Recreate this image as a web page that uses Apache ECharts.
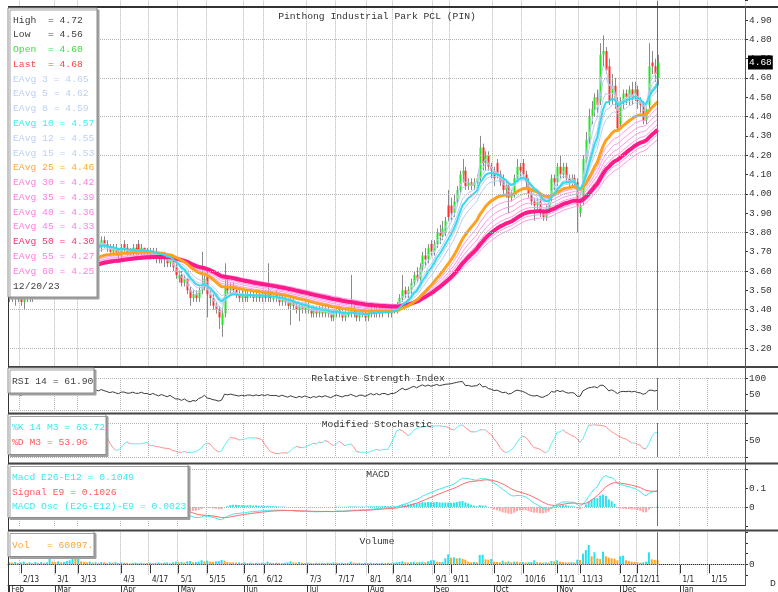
<!DOCTYPE html>
<html>
<head>
<meta charset="utf-8">
<title>Pinthong Industrial Park PCL (PIN)</title>
<script src="https://cdn.jsdelivr.net/npm/echarts/dist/echarts.min.js"></script>
<style>
html, body { margin: 0; padding: 0; background: #fff; }
#chart { width: 778px; height: 592px; }
</style>
</head>
<body>
<div id="chart"></div>
<script>
// daily bars, Feb 7 2023 .. Dec 20 2023: [open, close, low, high]
const ohlc = [
  [3.48,3.46,3.44,3.50],[3.46,3.48,3.44,3.50],[3.48,3.46,3.42,3.50],[3.46,3.46,3.44,3.48],[3.46,3.44,3.42,3.48],
  [3.44,3.46,3.40,3.48],[3.46,3.48,3.44,3.50],[3.48,3.46,3.44,3.50],[3.46,3.48,3.44,3.50],[3.48,3.50,3.46,3.52],
  [3.50,3.48,3.46,3.52],[3.48,3.50,3.46,3.52],[3.50,3.52,3.48,3.54],[3.52,3.50,3.48,3.54],[3.50,3.60,3.50,3.62],
  [3.60,3.58,3.54,3.62],[3.58,3.62,3.56,3.64],[3.62,3.60,3.58,3.64],[3.60,3.64,3.58,3.66],[3.64,3.62,3.60,3.66],
  [3.62,3.66,3.60,3.68],[3.66,3.70,3.64,3.72],[3.70,3.78,3.68,3.80],[3.78,3.74,3.72,3.82],[3.74,3.76,3.70,3.80],
  [3.76,3.72,3.70,3.78],[3.72,3.74,3.70,3.76],[3.74,3.76,3.72,3.78],[3.76,3.74,3.72,3.78],[3.74,3.76,3.72,3.78],
  [3.76,3.74,3.72,3.78],[3.74,3.72,3.70,3.76],[3.72,3.76,3.70,3.78],[3.76,3.74,3.72,3.78],[3.74,3.72,3.70,3.76],
  [3.72,3.70,3.68,3.74],[3.70,3.72,3.68,3.74],[3.72,3.70,3.68,3.74],[3.70,3.68,3.66,3.72],[3.68,3.72,3.66,3.74],
  [3.74,3.72,3.70,3.76],[3.72,3.70,3.68,3.74],[3.70,3.70,3.68,3.72],[3.70,3.72,3.68,3.74],[3.72,3.70,3.68,3.74],
  [3.74,3.70,3.68,3.76],[3.70,3.72,3.68,3.74],[3.72,3.70,3.68,3.72],[3.70,3.70,3.68,3.72],[3.70,3.68,3.66,3.72],
  [3.68,3.70,3.66,3.72],[3.70,3.68,3.64,3.72],[3.68,3.66,3.64,3.70],[3.66,3.68,3.64,3.70],[3.68,3.66,3.62,3.70],
  [3.66,3.64,3.62,3.68],[3.64,3.66,3.62,3.68],[3.66,3.62,3.60,3.68],[3.62,3.58,3.56,3.64],[3.56,3.58,3.54,3.60],
  [3.58,3.54,3.52,3.60],[3.54,3.56,3.52,3.58],[3.56,3.50,3.48,3.56],[3.50,3.46,3.42,3.52],[3.46,3.48,3.44,3.50],
  [3.48,3.46,3.44,3.50],[3.46,3.50,3.44,3.52],[3.50,3.52,3.48,3.70],[3.52,3.56,3.50,3.58],[3.58,3.48,3.36,3.60],
  [3.48,3.46,3.42,3.50],[3.46,3.42,3.40,3.48],[3.42,3.40,3.38,3.44],[3.40,3.36,3.30,3.42],[3.32,3.38,3.26,3.40],
  [3.38,3.52,3.36,3.64],[3.52,3.50,3.48,3.56],[3.50,3.52,3.48,3.54],[3.52,3.50,3.48,3.54],[3.50,3.48,3.46,3.52],
  [3.48,3.46,3.44,3.50],[3.46,3.48,3.44,3.50],[3.48,3.46,3.44,3.50],[3.46,3.48,3.44,3.50],[3.48,3.48,3.46,3.50],
  [3.48,3.46,3.44,3.50],[3.46,3.48,3.44,3.50],[3.48,3.46,3.44,3.50],[3.46,3.48,3.44,3.50],[3.48,3.46,3.44,3.50],
  [3.46,3.48,3.44,3.64],[3.48,3.46,3.44,3.50],[3.46,3.46,3.44,3.48],[3.48,3.46,3.44,3.50],[3.46,3.44,3.42,3.48],
  [3.44,3.46,3.42,3.48],[3.46,3.44,3.42,3.48],[3.44,3.42,3.40,3.46],[3.42,3.44,3.32,3.46],[3.44,3.42,3.40,3.46],
  [3.42,3.40,3.38,3.44],[3.40,3.42,3.34,3.44],[3.42,3.40,3.38,3.44],[3.40,3.42,3.38,3.44],[3.42,3.40,3.38,3.44],
  [3.40,3.38,3.36,3.42],[3.38,3.40,3.36,3.42],[3.40,3.38,3.36,3.42],[3.38,3.40,3.36,3.42],[3.40,3.38,3.36,3.42],
  [3.38,3.40,3.36,3.42],[3.40,3.38,3.36,3.42],[3.38,3.36,3.34,3.40],[3.36,3.38,3.34,3.40],[3.38,3.40,3.36,3.42],
  [3.40,3.38,3.36,3.42],[3.38,3.36,3.34,3.40],[3.36,3.38,3.34,3.40],[3.38,3.38,3.36,3.40],[3.38,3.40,3.36,3.58],
  [3.40,3.38,3.36,3.42],[3.38,3.36,3.34,3.40],[3.36,3.38,3.34,3.40],[3.38,3.38,3.36,3.40],[3.38,3.36,3.34,3.40],
  [3.36,3.38,3.34,3.40],[3.38,3.40,3.36,3.42],[3.40,3.38,3.36,3.42],[3.38,3.40,3.36,3.42],[3.40,3.38,3.36,3.42],
  [3.38,3.40,3.36,3.42],[3.40,3.40,3.38,3.42],[3.40,3.38,3.36,3.42],[3.38,3.40,3.36,3.42],[3.40,3.40,3.38,3.42],
  [3.40,3.42,3.38,3.44],[3.42,3.46,3.40,3.48],[3.46,3.50,3.44,3.58],[3.50,3.48,3.46,3.52],[3.48,3.50,3.46,3.52],
  [3.50,3.54,3.48,3.56],[3.54,3.58,3.52,3.60],[3.58,3.56,3.54,3.62],[3.56,3.62,3.54,3.64],[3.62,3.68,3.60,3.70],
  [3.68,3.66,3.62,3.72],[3.66,3.72,3.64,3.74],[3.74,3.70,3.68,3.76],[3.70,3.74,3.68,3.76],[3.74,3.80,3.72,3.82],
  [3.80,3.78,3.74,3.84],[3.78,3.82,3.76,3.86],[3.80,3.86,3.78,3.88],[3.94,3.88,3.86,4.02],[3.94,3.90,3.86,3.98],
  [3.90,3.96,3.88,4.00],[3.96,4.02,3.94,4.04],[4.02,4.10,4.00,4.12],[4.10,4.12,4.06,4.18],[4.12,4.04,4.02,4.14],
  [4.04,4.06,4.02,4.08],[4.06,4.04,4.02,4.08],[4.04,4.06,4.02,4.08],[4.06,4.08,4.04,4.10],[4.08,4.24,4.06,4.30],
  [4.24,4.16,4.12,4.26],[4.16,4.20,4.12,4.22],[4.20,4.14,4.12,4.22],[4.14,4.12,4.08,4.16],[4.12,4.08,4.04,4.14],
  [4.16,4.10,4.08,4.18],[4.10,4.06,4.04,4.12],[4.08,4.02,4.00,4.10],[4.02,4.04,3.98,4.06],[4.04,3.98,3.90,4.06],
  [3.98,4.00,3.96,4.02],[4.00,4.08,3.98,4.10],[4.08,4.14,4.06,4.18],[4.14,4.12,4.08,4.16],[4.16,4.10,4.08,4.18],
  [4.10,4.06,4.02,4.12],[4.06,4.00,3.98,4.08],[4.00,3.96,3.94,4.02],[3.96,3.94,3.86,3.98],[3.94,3.96,3.92,3.98],
  [3.96,3.90,3.88,3.98],[3.90,3.88,3.86,3.92],[3.88,3.92,3.86,3.94],[3.92,3.96,3.90,3.98],[3.98,4.08,3.96,4.10],
  [4.08,4.06,4.02,4.10],[4.06,4.14,4.04,4.16],[4.14,4.10,4.08,4.20],[4.10,4.14,4.08,4.16],[4.14,4.08,4.06,4.16],
  [4.08,4.06,4.04,4.10],[4.06,4.08,4.04,4.10],[4.08,4.06,4.04,4.10],[4.06,3.94,3.80,4.08],[3.90,3.94,3.88,3.96],
  [3.96,4.18,3.94,4.20],[4.18,4.28,4.16,4.32],[4.28,4.40,4.26,4.44],[4.40,4.44,4.36,4.48],[4.44,4.50,4.40,4.52],
  [4.50,4.46,4.42,4.54],[4.48,4.72,4.46,4.78],[4.72,4.74,4.66,4.82],[4.74,4.64,4.62,4.76],[4.66,4.48,4.46,4.70],
  [4.52,4.56,4.46,4.62],[4.56,4.48,4.44,4.60],[4.48,4.34,4.32,4.50],[4.36,4.48,4.34,4.50],[4.48,4.52,4.44,4.54],
  [4.52,4.50,4.46,4.54],[4.50,4.54,4.46,4.56],[4.54,4.50,4.46,4.58],[4.52,4.54,4.48,4.58],[4.54,4.48,4.44,4.56],
  [4.48,4.46,4.42,4.50],[4.46,4.38,4.36,4.48],[4.38,4.44,4.36,4.46],[4.46,4.66,4.44,4.78],[4.68,4.66,4.62,4.74],
  [4.66,4.62,4.58,4.70],[4.60,4.68,4.56,4.72]
]

const volumes = [
  30000, 25000, 35000, 20000, 28000, 40000, 22000, 30000, 18000, 35000,
  26000, 32000, 24000, 30000, 80000, 40000, 30000, 45000, 28000, 35000,
  50000, 60000, 105000, 95000, 100000, 45000, 35000, 30000, 40000, 25000,
  30000, 22000, 35000, 28000, 20000, 30000, 25000, 32000, 20000, 28000,
  24000, 20000, 15000, 22000, 26000, 18000, 24000, 15000, 20000, 25000,
  18000, 22000, 30000, 20000, 25000, 28000, 18000, 30000, 40000, 32000,
  35000, 28000, 45000, 50000, 30000, 35000, 40000, 60000, 45000, 55000,
  40000, 38000, 45000, 50000, 65000, 55000, 35000, 30000, 28000, 25000,
  30000, 22000, 28000, 20000, 25000, 18000, 22000, 20000, 26000, 18000,
  40000, 25000, 20000, 24000, 22000, 18000, 25000, 30000, 45000, 28000,
  25000, 35000, 24000, 20000, 26000, 22000, 18000, 24000, 20000, 22000,
  18000, 25000, 20000, 28000, 22000, 20000, 24000, 18000, 22000, 40000,
  26000, 20000, 24000, 18000, 22000, 20000, 25000, 18000, 22000, 20000,
  24000, 18000, 22000, 20000, 26000, 30000, 35000, 45000, 30000, 28000,
  32000, 38000, 30000, 35000, 40000, 30000, 45000, 60000, 62000, 40000,
  35000, 38000, 90000, 150000, 100000, 105000, 90000, 95000, 80000, 70000,
  40000, 30000, 35000, 30000, 140000, 145000, 75000, 70000, 80000, 40000,
  35000, 30000, 55000, 35000, 45000, 30000, 40000, 38000, 30000, 35000,
  28000, 32000, 35000, 60000, 30000, 28000, 25000, 30000, 28000, 50000,
  45000, 60000, 40000, 35000, 30000, 28000, 32000, 30000, 70000, 65000,
  160000, 215000, 290000, 120000, 180000, 90000, 80000, 190000, 120000, 100000,
  90000, 85000, 60000, 120000, 130000, 60000, 50000, 40000, 35000, 30000,
  25000, 30000, 40000, 180000, 75000, 65000, 60097
]

// level of the averages before the first shown bar
const priorLevel = 3.62

const emaPeriods = [3, 5, 8, 10, 12, 15, 25, 30, 35, 40, 45, 50, 55, 60]

const dayTicks = ['2/13', '3/1', '3/13', '4/3', '4/17', '5/1', '5/15', '6/1', '6/12', '7/3', '7/17', '8/1',
  '8/14', '9/1', '9/11', '10/2', '10/16', '11/1', '11/13', '12/1', '12/11', '1/1', '1/15']
const monthTicks = { '2/7': 'Feb', '3/1': 'Mar', '4/3': 'Apr', '5/1': 'May', '6/1': 'Jun', '7/3': 'Jul',
  '8/1': 'Aug', '9/1': 'Sep', '10/2': 'Oct', '11/1': 'Nov', '12/1': 'Dec', '1/1': 'Jan' }

const legendLines = [
  ['High  = 4.72', '#404040'], ['Low   = 4.56', '#404040'], ['Open  = 4.60', '#3ee03e'], ['Last  = 4.68', '#ff4444'],
  ['EAvg 3 = 4.65', '#bcd0f4'], ['EAvg 5 = 4.62', '#bcd0f4'], ['EAvg 8 = 4.59', '#bcd0f4'], ['EAvg 10 = 4.57', '#3ef0f0'],
  ['EAvg 12 = 4.55', '#bcd0f4'], ['EAvg 15 = 4.53', '#bcd0f4'], ['EAvg 25 = 4.46', '#ffaa33'], ['EAvg 30 = 4.42', '#ff7fe0'],
  ['EAvg 35 = 4.39', '#ff7fe0'], ['EAvg 40 = 4.36', '#ff7fe0'], ['EAvg 45 = 4.33', '#ff7fe0'], ['EAvg 50 = 4.30', '#ff2f78'],
  ['EAvg 55 = 4.27', '#ff7fe0'], ['EAvg 60 = 4.25', '#ff7fe0'], ['12/20/23', '#404040']
]

// trading-day categories (weekdays), data ends 12/20, axis runs on to the end of January
const dates = []
const day = new Date(Date.UTC(2023, 1, 7))
while (day.getTime() <= Date.UTC(2024, 0, 31)) {
  const wd = day.getUTCDay()
  if (wd !== 0 && wd !== 6) dates.push((day.getUTCMonth() + 1) + '/' + day.getUTCDate())
  day.setUTCDate(day.getUTCDate() + 1)
}
const lastDate = dates[ohlc.length - 1]
const tickSet = new Set(dayTicks)

// indicators
const closes = ohlc.map(b => b[1])
function ema(src, n, seed) {
  const a = 2 / (n + 1)
  let e = seed
  return src.map(v => (e = e + a * (v - e)))
}
function sma(src, n) {
  return src.map((v, i) => {
    const w = src.slice(Math.max(0, i - n + 1), i + 1)
    return w.reduce((s, x) => s + x, 0) / w.length
  })
}
const emas = {}
emaPeriods.forEach(p => { emas[p] = ema(closes, p, priorLevel) })

const rsi = []
let ag = 0.01, al = 0.01
closes.forEach((c, i) => {
  const ch = i ? c - closes[i - 1] : 0
  ag = (ag * 13 + Math.max(ch, 0)) / 14
  al = (al * 13 + Math.max(-ch, 0)) / 14
  rsi.push(100 - 100 / (1 + ag / al))
})

const rawK = ohlc.map((b, i) => {
  const w = ohlc.slice(Math.max(0, i - 13), i + 1)
  const hh = Math.max(...w.map(x => x[3]))
  const ll = Math.min(...w.map(x => x[2]))
  return hh > ll ? (b[1] - ll) / (hh - ll) * 100 : 50
})
const stochK = sma(rawK, 3)
const stochD = sma(stochK, 3)

const e12 = ema(closes, 12, priorLevel)
const e26 = ema(closes, 26, priorLevel)
const macd = e12.map((v, i) => v - e26[i])
const signal = ema(macd, 9, 0)
const osc = macd.map((v, i) => v - signal[i])

const chart = echarts.init(document.getElementById('chart'))

const mono = '"Liberation Mono", "DejaVu Sans Mono", monospace'
const narrow = '"Liberation Sans Narrow", "DejaVu Sans Condensed", "Liberation Sans", sans-serif'

const grids = [
  { left: 8, width: 737, top: 0.7, height: 366.9 },
  { left: 8, width: 737, top: 378, height: 32 },
  { left: 8, width: 737, top: 423, height: 34 },
  { left: 8, width: 737, top: 469, height: 57 },
  { left: 8, width: 737, top: 532.3, height: 42.7 }
].map(g => Object.assign(g, { containLabel: false, outerBoundsMode: 'none' }))

const xAxes = grids.map((g, i) => ({
  type: 'category',
  gridIndex: i,
  data: dates,
  boundaryGap: true,
  axisLine: { show: i === 4, lineStyle: { color: '#333' } },
  axisTick: {
    show: i === 4, length: 9, alignWithLabel: true,
    interval: (idx, v) => tickSet.has(v), lineStyle: { color: '#333' }
  },
  axisLabel: {
    show: i === 4, interval: (idx, v) => tickSet.has(v), align: 'left', margin: 1,
    padding: [0, 0, 0, 2], fontSize: 8, fontFamily: narrow, color: '#222'
  },
  splitLine: {
    show: true, interval: (idx, v) => tickSet.has(v),
    lineStyle: { color: '#b4b4b4', type: 'dotted', width: 1 }
  }
}))
xAxes.push({
  type: 'category',
  gridIndex: 4,
  data: dates,
  position: 'bottom',
  offset: 10,
  axisLine: { show: true, lineStyle: { color: '#333' } },
  axisTick: { show: true, length: 8, alignWithLabel: true, interval: (idx, v) => v in monthTicks, lineStyle: { color: '#333' } },
  axisLabel: {
    interval: (idx, v) => v in monthTicks, formatter: v => monthTicks[v] || '', align: 'left', margin: 1,
    padding: [0, 0, 0, 2], fontSize: 8, fontFamily: narrow, color: '#222'
  },
  splitLine: { show: false }
})

function rightAxis(gridIndex, min, max, interval, fmt) {
  return {
    type: 'value', gridIndex, position: 'right', min, max, interval,
    axisLine: { show: false },
    axisTick: { show: true, length: 3, lineStyle: { color: '#333' } },
    axisLabel: { formatter: fmt, margin: 4, fontSize: 9.5, fontFamily: mono, color: '#333' },
    splitLine: { show: false }
  }
}
const near = (a, b) => Math.abs(a - b) < 1e-6
const yAxes = [
  rightAxis(0, 3.1, 5.0, 0.1, v => (v < 3.15 || v > 4.95) ? '' : v.toFixed(2)),
  rightAxis(1, 0, 100, 50, v => (v === 100 || v === 50) ? String(v) : ''),
  rightAxis(2, 0, 100, 50, v => v === 50 ? '50' : ''),
  rightAxis(3, -0.1, 0.2, 0.1, v => near(v, 0.1) ? '0.1' : near(v, 0) ? '0' : ''),
  rightAxis(4, -160000, 480000, 160000, v => v === 0 ? '0' : '')
]

function guides(levels, extra) {
  const data = levels.map(v => ({ yAxis: v, lineStyle: { type: 'dotted', color: '#b4b4b4', width: 1 } }))
  data.push({ xAxis: lastDate, lineStyle: { type: 'solid', color: '#707070', width: 1 } })
  return {
    symbol: ['none', 'none'], silent: true, animation: false,
    label: { show: false }, data: data.concat(extra || [])
  }
}

const thinBlue = '#b8cef2'
const thinPink = '#ff98e6'
const emaStyle = {
  3: [thinBlue, 1], 5: [thinBlue, 1], 8: [thinBlue, 1], 12: [thinBlue, 1], 15: [thinBlue, 1],
  30: [thinPink, 1], 35: [thinPink, 1], 40: [thinPink, 1], 45: [thinPink, 1], 55: [thinPink, 1], 60: [thinPink, 1],
  50: ['#ff1a8a', 4], 25: ['#ffa11f', 3], 10: ['#2fdcf0', 2]
}
const emaOrder = [60, 55, 45, 40, 35, 30, 15, 12, 8, 5, 3, 50, 25, 10]

const lastClose = closes[closes.length - 1]
const series = []
emaOrder.forEach((p, k) => {
  series.push({
    name: 'EAvg ' + p, type: 'line', xAxisIndex: 0, yAxisIndex: 0,
    data: emas[p].map(v => +v.toFixed(4)), showSymbol: false, symbol: 'none',
    lineStyle: { color: emaStyle[p][0], width: emaStyle[p][1] },
    markLine: k === 0 ? guides([3.2, 3.4, 3.6, 3.8, 4.0, 4.2, 4.4, 4.6, 4.8], [{
      yAxis: lastClose, lineStyle: { color: 'rgba(0,0,0,0)', width: 0 },
      label: {
        show: true, position: 'end', distance: 3, formatter: lastClose.toFixed(2),
        backgroundColor: '#000', color: '#fff', padding: [3, 1, 1, 1], fontSize: 9.5, fontFamily: mono, opacity: 1
      }
    }]) : undefined
  })
})

series.push({
  name: 'Price', type: 'custom', xAxisIndex: 0, yAxisIndex: 0,
  data: ohlc.map((b, i) => [i, b[0], b[1], b[2], b[3]]),
  encode: { x: 0, y: [1, 2, 3, 4] },
  clip: true,
  renderItem(params, api) {
    const i = api.value(0)
    const o = api.value(1), c = api.value(2), l = api.value(3), h = api.value(4)
    const pl = api.coord([i, l]), ph = api.coord([i, h])
    const po = api.coord([i, o]), pc = api.coord([i, c])
    const x = Math.round(pl[0])
    const top = Math.min(po[1], pc[1])
    return {
      type: 'group',
      children: [
        { type: 'line', shape: { x1: x + 0.5, y1: ph[1], x2: x + 0.5, y2: pl[1] }, style: { stroke: '#8a8a8a', lineWidth: 1 } },
        { type: 'rect', shape: { x: x - 0.5, y: top, width: 2, height: Math.max(1.5, Math.abs(po[1] - pc[1])) },
          style: { fill: c >= o ? '#1fe61f' : '#ff3030' } }
      ]
    }
  }
})

series.push({
  name: 'RSI', type: 'line', xAxisIndex: 1, yAxisIndex: 1,
  data: rsi.map(v => +v.toFixed(2)), showSymbol: false, symbol: 'none',
  lineStyle: { color: '#3c3c3c', width: 1 },
  markLine: guides([100, 0])
})

series.push({
  name: '%D', type: 'line', xAxisIndex: 2, yAxisIndex: 2,
  data: stochD.map(v => +v.toFixed(2)), showSymbol: false, symbol: 'none',
  lineStyle: { opacity: 0 },
  markLine: guides([100, 0])
})
series.push({
  name: '%K', type: 'custom', xAxisIndex: 2, yAxisIndex: 2,
  data: stochK.map((v, i) => [i, +v.toFixed(2), +(i ? stochK[i - 1] : v).toFixed(2)]),
  encode: { x: 0, y: 1 },
  renderItem(params, api) {
    const i = api.value(0)
    if (i === 0) return
    const p0 = api.coord([i - 1, api.value(2)])
    const p1 = api.coord([i, api.value(1)])
    return {
      type: 'line', shape: { x1: p0[0], y1: p0[1], x2: p1[0], y2: p1[1] },
      style: { stroke: api.value(1) >= api.value(2) ? '#5aeef2' : '#ff8c8c', lineWidth: 1 }
    }
  }
})

series.push({
  name: 'MACD Osc', type: 'bar', xAxisIndex: 3, yAxisIndex: 3,
  data: osc.map(v => ({ value: +v.toFixed(4), itemStyle: { color: v >= 0 ? '#2ee0ee' : '#ffa4a4' } })),
  barWidth: 2,
  markLine: guides([0.2, 0])
})
series.push({
  name: 'Macd', type: 'line', xAxisIndex: 3, yAxisIndex: 3,
  data: macd.map(v => +v.toFixed(4)), showSymbol: false, symbol: 'none',
  lineStyle: { color: '#3ee8f2', width: 1 }
})
series.push({
  name: 'Signal', type: 'line', xAxisIndex: 3, yAxisIndex: 3,
  data: signal.map(v => +v.toFixed(4)), showSymbol: false, symbol: 'none',
  lineStyle: { color: '#ff6a6a', width: 1 }
})

series.push({
  name: 'Vol', type: 'bar', xAxisIndex: 4, yAxisIndex: 4,
  data: volumes.map((v, i) => ({ value: v, itemStyle: { color: i && v > volumes[i - 1] ? '#22e2f0' : '#ffa41c' } })),
  barWidth: 2,
  markLine: guides([0])
})

// frames, legend boxes and panel captions
const g = []
function line(x1, y1, x2, y2, color, w) {
  g.push({ type: 'line', z: 100, silent: true, shape: { x1, y1, x2, y2 }, style: { stroke: color, lineWidth: w } })
}
function box(x, y, w, h) {
  g.push({ type: 'rect', z: 100, silent: true, shape: { x, y, width: w, height: h },
    style: { fill: '#fff', stroke: '#8c8c8c', lineWidth: 1, shadowColor: '#a0a0a0', shadowOffsetX: 2, shadowOffsetY: 2, shadowBlur: 0 } })
}
function text(str, x, y, color, align) {
  g.push({ type: 'text', z: 101, silent: true, x, y,
    style: { text: str, fill: color, font: '9.7px ' + mono, align: align || 'left', verticalAlign: 'middle' } })
}

line(8, 7, 778, 7, '#333', 2)
line(8, 367, 778, 367, '#444', 2)
line(8, 413.5, 778, 413.5, '#444', 2)
line(8, 463.5, 778, 463.5, '#444', 2)
line(8, 530.5, 778, 530.5, '#444', 2)
line(8.5, 6, 8.5, 592, '#333', 1)
line(745.5, 6, 745.5, 586, '#555', 1)

box(8, 8, 89, 289)
legendLines.forEach((l, k) => text(l[0], 13, 20 + 14.78 * k, l[1]))

box(8, 368, 86, 25)
text('RSI 14 = 61.90', 12, 381, '#404040')

box(8, 414.5, 98, 40)
text('%K 14 M3 = 63.72', 12, 427, '#3ee8ee')
text('%D M3 = 53.96', 12, 442, '#ff5a5a')

box(8, 464.5, 180, 53)
text('Macd E26-E12 = 0.1049', 12, 477, '#3ee8ee')
text('Signal E9 = 0.1026', 12, 492, '#ff5a5a')
text('MACD Osc (E26-E12)-E9 = 0.0023', 12, 506, '#3ee8ee')

box(8, 531.5, 86, 25)
text('Vol   = 60097.', 12, 545, '#ffa633')

text('Pinthong Industrial Park PCL (PIN)', 377, 16, '#333', 'center')
text('Relative Strength Index', 378, 378, '#333', 'center')
text('Modified Stochastic', 377, 424, '#333', 'center')
text('MACD', 378, 474, '#333', 'center')
text('Volume', 377, 541, '#333', 'center')
text('D', 770, 583, '#333', 'left')

chart.setOption({
  backgroundColor: '#fff',
  animation: false,
  grid: grids,
  xAxis: xAxes,
  yAxis: yAxes,
  series,
  graphic: { elements: g }
})
</script>
</body>
</html>
